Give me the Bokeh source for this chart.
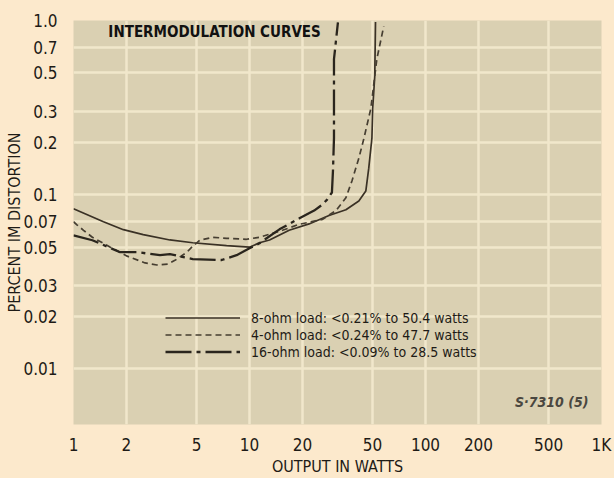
from bokeh.plotting import figure
from bokeh.models import FixedTicker, Label, Legend, LegendItem
from bokeh.embed import file_html
from bokeh.resources import INLINE

# ---- data ----
watts_8 = [1.0, 1.48, 1.92, 2.49, 3.53, 4.76, 7.41, 10.0, 11.4, 13.0, 16.8, 21.8, 28.3,
           35.3, 41.8, 45.8, 47.6, 49.6, 50.1, 51.5, 52.0]
im_8 = [0.083, 0.070, 0.063, 0.059, 0.055, 0.053, 0.051, 0.050, 0.053, 0.055, 0.0625, 0.068,
        0.076, 0.082, 0.092, 0.105, 0.142, 0.211, 0.312, 0.48, 0.98]

watts_4 = [1.0, 1.05, 1.14, 1.28, 1.62, 2.02, 2.55, 2.98, 3.44, 3.77, 4.41, 4.70, 5.22,
           6.18, 7.41, 9.62, 11.4, 15.4, 19.1, 25.9, 31.0, 35.3, 38.2, 41.8, 44.7, 48.9,
           52.9, 57.9]
im_4 = [0.070, 0.067, 0.0625, 0.057, 0.050, 0.0444, 0.0406, 0.0395, 0.040, 0.042, 0.0468,
        0.050, 0.0548, 0.057, 0.0562, 0.0555, 0.057, 0.0625, 0.0676, 0.0721, 0.0811,
        0.0961, 0.120, 0.162, 0.211, 0.312, 0.60, 0.925]

watts_16 = [1.0, 1.28, 1.84, 2.30, 3.10, 3.53, 4.76, 6.95, 8.45, 10.0, 11.4, 14.8, 19.1,
            23.3, 25.9, 27.6, 29.4, 29.8, 30.2, 30.2, 31.8]
im_16 = [0.0585, 0.0548, 0.0468, 0.0468, 0.045, 0.0456, 0.0427, 0.0422, 0.045, 0.0493,
         0.0527, 0.0633, 0.073, 0.0811, 0.0877, 0.0937, 0.103, 0.137, 0.211, 0.60, 0.974]

legend_labels = ["8-ohm load: <0.21% to 50.4 watts",
                 "4-ohm load: <0.24% to 47.7 watts",
                 "16-ohm load: <0.09% to 28.5 watts"]

x_ticks = [1, 2, 5, 10, 20, 50, 100, 200, 500, 1000]
x_tick_labels = ["1", "2", "5", "10", "20", "50", "100", "200", "500", "1K"]
y_ticks = [0.01, 0.02, 0.03, 0.05, 0.07, 0.1, 0.2, 0.3, 0.5, 0.7, 1.0]
y_tick_labels = ["0.01", "0.02", "0.03", "0.05", "0.07", "0.1", "0.2", "0.3", "0.5", "0.7", "1.0"]

title_text = "INTERMODULATION CURVES"
code_text = "S\u00b77310 (5)"
x_label = "OUTPUT IN WATTS"
y_label = "PERCENT IM DISTORTION"

# ---- style ----
FONT = "'DejaVu Sans Condensed', Roboto, sans-serif"
PAGE_BG = "#fce9cc"
PLOT_BG = "#dad0b2"
GRID = "#f1e7cb"
INK = "#1e1b16"

p = figure(width=614, height=478, x_axis_type="log", y_axis_type="log",
           x_range=(1, 1000), y_range=(0.0048, 1.0),
           output_backend="svg", toolbar_location=None,
           min_border_left=73, min_border_right=13, min_border_top=20, min_border_bottom=50,
           background_fill_color=PLOT_BG, border_fill_color=PAGE_BG)
p.outline_line_color = None

p.xaxis.ticker = FixedTicker(ticks=x_ticks)
p.yaxis.ticker = FixedTicker(ticks=y_ticks)
p.xaxis.major_label_overrides = {t: l for t, l in zip(x_ticks, x_tick_labels)}
p.yaxis.major_label_overrides = {t: l for t, l in zip(y_ticks, y_tick_labels)}
p.xgrid.ticker = FixedTicker(ticks=x_ticks)
p.ygrid.ticker = FixedTicker(ticks=y_ticks)

for ax in (p.xaxis, p.yaxis):
    ax.axis_line_color = None
    ax.major_tick_line_color = None
    ax.minor_tick_line_color = None
    ax.major_label_text_font = FONT
    ax.major_label_text_font_size = "17px"
    ax.major_label_text_color = INK
    ax.axis_label_text_font = FONT
    ax.axis_label_text_font_size = "16px"
    ax.axis_label_text_font_style = "normal"
    ax.axis_label_text_color = INK

p.xaxis.axis_label = x_label
p.yaxis.axis_label = y_label
p.xaxis.major_label_standoff = 4
p.xaxis.axis_label_standoff = -1
p.yaxis.major_label_standoff = 10
p.yaxis.axis_label_standoff = -4

for g in (p.xgrid, p.ygrid):
    g.grid_line_color = GRID
    g.grid_line_width = 2.5
    g.grid_line_alpha = 1.0

r8 = p.line(watts_8, im_8, line_color="#3a3125", line_width=1.7)
r4 = p.line(watts_4, im_4, line_color="#463e31", line_width=1.7, line_dash="6 4")
r16 = p.line(watts_16, im_16, line_color="#2a251d", line_width=2.3, line_dash="26 5 4 5")

legend = Legend(items=[LegendItem(label=legend_labels[0], renderers=[r8]),
                       LegendItem(label=legend_labels[1], renderers=[r4]),
                       LegendItem(label=legend_labels[2], renderers=[r16])],
                location=(92, 64), orientation="vertical",
                glyph_width=75, glyph_height=17, label_height=17, label_standoff=11,
                spacing=0, padding=0, margin=0,
                background_fill_alpha=0, border_line_alpha=0,
                label_text_font=FONT, label_text_font_size="14px", label_text_color=INK)
p.add_layout(legend, "center")

# chart title inside the frame
p.add_layout(Label(x=1.578, y=0.855, text=title_text, text_baseline="middle",
                   text_font=FONT, text_font_size="15px", text_font_style="bold",
                   text_color="#111111"))
# figure code, lower right
p.add_layout(Label(x=843, y=0.0065, text=code_text, text_baseline="middle",
                   text_align="right", text_font=FONT, text_font_size="14px",
                   text_font_style="bold italic", text_color="#4a4740"))

html = file_html(p, INLINE)
html = html.replace("<head>", "<head><style>html, body { background: %s; }</style>" % PAGE_BG, 1)
open("out.html", "w").write(html)
